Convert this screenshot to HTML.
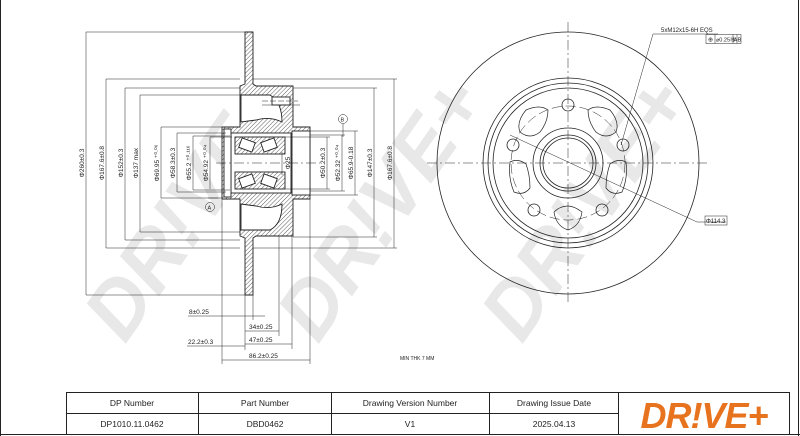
<!DOCTYPE html>
<html><head><meta charset="utf-8"><style>
html,body{margin:0;padding:0;background:#fff;width:800px;height:436px;overflow:hidden}
svg{display:block}
text{font-family:"Liberation Sans",sans-serif;fill:#222}
</style></head><body>
<svg width="800" height="436" viewBox="0 0 800 436" xmlns="http://www.w3.org/2000/svg">
<defs>
<pattern id="h" width="3" height="3" patternUnits="userSpaceOnUse" patternTransform="rotate(45)">
<rect width="3" height="3" fill="#fff"/><line x1="0" y1="0" x2="0" y2="3" stroke="#333" stroke-width="0.8"/></pattern>
</defs>
<!-- watermarks -->
<g font-family="Liberation Sans" font-weight="bold" font-style="italic" font-size="80">
<text x="0" y="0" transform="translate(125,345) rotate(-55)" style="fill:#e8e8e8">DR!VE+</text>
<text x="0" y="0" transform="translate(318,345) rotate(-55)" style="fill:#e8e8e8">DR!VE+</text>
<text x="0" y="0" transform="translate(522,345) rotate(-55)" style="fill:#e8e8e8">DR!VE+</text>
</g>
<!-- frame -->
<g stroke="#222" fill="none" stroke-width="1">
<line x1="0.5" y1="0" x2="0.5" y2="436"/>
<line x1="798.5" y1="0" x2="798.5" y2="436"/>
<line x1="0" y1="434.5" x2="800" y2="434.5"/>
</g>
<!-- LEFT SECTION VIEW -->
<g stroke="#222" stroke-width="0.9">
<path d="M245,32 H253 V84 L256,86 H293 V127 H310 V199 H293 V236 H256 L253,238 V295 H245 V238 L240,236 V199 H222 V127 H240 V86 L245,84 Z" fill="url(#h)"/>
<path d="M241,95 H270 Q282,102 282,122 Q270,116 256,120 L241,122 Z" fill="#fff"/>
<path d="M241,204 L256,206 Q270,210 282,204 Q282,224 270,230 H241 Z" fill="#fff"/>
<rect x="272" y="97" width="18" height="8" fill="#fff"/>
<rect x="231" y="133" width="60" height="60" fill="#fff"/>
<rect x="292" y="131" width="18" height="64" fill="#fff"/>
<rect x="224" y="129" width="7" height="68" fill="#fff"/>
<rect x="235" y="137" width="50" height="17" fill="url(#h)"/>
<rect x="235" y="172" width="50" height="17" fill="url(#h)"/>
<g fill="#fff"><rect x="240" y="140" width="14" height="10" transform="rotate(20 247 145)"/><rect x="262" y="140" width="14" height="10" transform="rotate(-20 269 145)"/>
<rect x="240" y="176" width="14" height="10" transform="rotate(-20 247 181)"/><rect x="262" y="176" width="14" height="10" transform="rotate(20 269 181)"/></g>
</g>
<g stroke="#222" stroke-width="0.5" fill="none">
<line x1="216" y1="163" x2="320" y2="163" stroke-dasharray="10,3,2,3"/>
<line x1="262" y1="105" x2="300" y2="105" /><line x1="262" y1="101" x2="298" y2="101" stroke-dasharray="6,2"/>
<line x1="86" y1="32" x2="86" y2="295"/><line x1="86" y1="32" x2="245" y2="32"/><line x1="86" y1="295" x2="245" y2="295"/>
<line x1="106" y1="79" x2="106" y2="248"/><line x1="106" y1="79" x2="240" y2="79"/><line x1="106" y1="248" x2="240" y2="248"/>
<line x1="125" y1="88" x2="125" y2="240"/><line x1="125" y1="88" x2="240" y2="88"/><line x1="125" y1="240" x2="240" y2="240"/>
<line x1="140" y1="95" x2="140" y2="232"/><line x1="140" y1="95" x2="240" y2="95"/><line x1="140" y1="232" x2="240" y2="232"/>
<line x1="161" y1="127" x2="161" y2="198"/><line x1="161" y1="127" x2="222" y2="127"/><line x1="161" y1="198" x2="222" y2="198"/>
<line x1="177" y1="133" x2="177" y2="192"/><line x1="177" y1="133" x2="226" y2="133"/><line x1="177" y1="192" x2="226" y2="192"/>
<line x1="193" y1="136" x2="193" y2="190"/><line x1="193" y1="136" x2="230" y2="136"/><line x1="193" y1="190" x2="230" y2="190"/>
<line x1="210" y1="137" x2="210" y2="189"/><line x1="210" y1="137" x2="232" y2="137"/>
<line x1="327" y1="137" x2="327" y2="189"/><line x1="285" y1="137" x2="330" y2="137"/><line x1="285" y1="189" x2="330" y2="189"/>
<line x1="342" y1="135" x2="342" y2="191"/><line x1="310" y1="135" x2="345" y2="135"/><line x1="310" y1="191" x2="345" y2="191"/>
<line x1="355" y1="131" x2="355" y2="195"/><line x1="310" y1="131" x2="358" y2="131"/><line x1="310" y1="195" x2="358" y2="195"/>
<line x1="374" y1="88" x2="374" y2="237"/><line x1="293" y1="88" x2="377" y2="88"/><line x1="293" y1="237" x2="377" y2="237"/>
<line x1="394" y1="79" x2="394" y2="248"/><line x1="253" y1="79" x2="397" y2="79"/><line x1="253" y1="248" x2="397" y2="248"/>
<line x1="282" y1="152" x2="282" y2="175"/>
<line x1="222" y1="199" x2="222" y2="364"/><line x1="245" y1="295" x2="245" y2="350"/><line x1="253" y1="295" x2="253" y2="320"/>
<line x1="279" y1="236" x2="279" y2="336"/><line x1="292" y1="236" x2="292" y2="349"/><line x1="310" y1="199" x2="310" y2="364"/>
<line x1="188" y1="316" x2="265" y2="316"/><line x1="245" y1="331" x2="279" y2="331"/><line x1="245" y1="344" x2="292" y2="344"/>
<line x1="187" y1="346" x2="245" y2="346"/><line x1="222" y1="360" x2="310" y2="360"/>
<line x1="218" y1="198" x2="208" y2="198"/>
<circle cx="210" cy="207" r="4.5"/><circle cx="343" cy="119" r="4.5"/>
<line x1="343" y1="124" x2="343" y2="137"/>
</g>
<g font-size="6.5">
<text transform="translate(84,163) rotate(-90)" text-anchor="middle">Φ260±0.3</text>
<text transform="translate(104,163) rotate(-90)" text-anchor="middle">Φ167.6±0.8</text>
<text transform="translate(123,163) rotate(-90)" text-anchor="middle">Φ152±0.3</text>
<text transform="translate(138,163) rotate(-90)" text-anchor="middle">Φ137 max</text>
<text transform="translate(159,163) rotate(-90)" text-anchor="middle">Φ69.95 ⁺⁰·⁰⁶</text>
<text transform="translate(175,163) rotate(-90)" text-anchor="middle">Φ58.3±0.3</text>
<text transform="translate(191,163) rotate(-90)" text-anchor="middle">Φ55.2 ⁺⁰·¹¹⁶</text>
<text transform="translate(208,163) rotate(-90)" text-anchor="middle">Φ54.92 ⁺⁰·⁰⁴</text>
<text transform="translate(290,163) rotate(-90)" text-anchor="middle">Φ25</text>
<text transform="translate(325,163) rotate(-90)" text-anchor="middle">Φ50.2±0.3</text>
<text transform="translate(340,163) rotate(-90)" text-anchor="middle">Φ52.32 ⁺⁰·⁰⁴</text>
<text transform="translate(353,163) rotate(-90)" text-anchor="middle">Φ65.9-0.18</text>
<text transform="translate(372,163) rotate(-90)" text-anchor="middle">Φ147±0.3</text>
<text transform="translate(392,163) rotate(-90)" text-anchor="middle">Φ167.6±0.8</text>
<text x="189" y="314">8±0.25</text>
<text x="249" y="329">34±0.25</text>
<text x="249" y="342">47±0.25</text>
<text x="188" y="344">22.2±0.3</text>
<text x="249" y="358">86.2±0.25</text>
<text x="207.5" y="209.5" font-size="5.5">A</text>
<text x="340.5" y="121.5" font-size="5.5">B</text>
<text x="400" y="360" font-size="5">MIN THK 7 MM</text>
</g>
<!-- RIGHT FRONT VIEW -->
<g stroke="#222" stroke-width="0.8" fill="none">
<circle cx="568" cy="163" r="131"/>
<circle cx="568" cy="163" r="85"/><circle cx="568" cy="163" r="80"/><circle cx="568" cy="163" r="75"/>
<circle cx="568" cy="163" r="35"/><circle cx="568" cy="163" r="28"/><circle cx="568" cy="163" r="25"/>
<circle cx="568" cy="163" r="57" stroke-dasharray="10,4" stroke-width="0.5"/>
<circle cx="568" cy="105" r="6"/><circle cx="623" cy="145" r="6"/><circle cx="602" cy="210" r="6"/><circle cx="534" cy="210" r="6"/><circle cx="513" cy="145" r="6"/>
<g stroke-width="0.7">
<path d="M548,110 Q540,104 526,110 Q516,122 520,132 Q530,140 540,132 Q548,122 548,110Z"/>
<path d="M588,110 Q596,104 610,110 Q620,122 616,132 Q606,140 596,132 Q588,122 588,110Z"/>
<path d="M510,162 Q508,178 514,192 Q524,196 530,188 Q530,175 526,164 Q518,158 510,162Z"/>
<path d="M626,162 Q628,178 622,192 Q612,196 606,188 Q606,175 610,164 Q618,158 626,162Z"/>
<path d="M554,212 Q556,226 568,230 Q580,226 582,212 Q574,206 568,206 Q560,206 554,212Z"/>
</g>
</g>
<g stroke="#222" stroke-width="0.5" fill="none">
<line x1="568" y1="22" x2="568" y2="305" stroke-dasharray="10,3,2,3"/>
<line x1="427" y1="163" x2="710" y2="163" stroke-dasharray="10,3,2,3"/>
<line x1="510" y1="135" x2="697" y2="222"/><line x1="697" y1="222" x2="726" y2="222"/>
<line x1="621" y1="145" x2="653" y2="34"/><line x1="653" y1="34" x2="718" y2="34"/>
<rect x="706" y="34.5" width="35" height="9"/><line x1="715" y1="34.5" x2="715" y2="43.5"/><line x1="733" y1="34.5" x2="733" y2="43.5"/><line x1="737" y1="34.5" x2="737" y2="43.5"/>
<rect x="705" y="216" width="22" height="9"/>
</g>
<g font-size="6">
<text x="661" y="32">5xM12x15-6H EQS</text>
<text x="708" y="41.5" font-size="6">⊕</text>
<text x="716" y="41.5" font-size="5.5">⌀0.25Ⓜ</text>
<text x="733.5" y="41.5" font-size="5.5">A</text><text x="737.5" y="41.5" font-size="5.5">B</text>
<text x="706" y="223" font-size="6">Φ114.3</text>
</g>
<!-- TABLE -->
<g stroke="#222" stroke-width="1" fill="none">
<rect x="66.5" y="392.5" width="723" height="42"/>
<line x1="66" y1="413.5" x2="618" y2="413.5"/>
<line x1="198.5" y1="392" x2="198.5" y2="435"/>
<line x1="331.5" y1="392" x2="331.5" y2="435"/>
<line x1="489.5" y1="392" x2="489.5" y2="435"/>
<line x1="618.5" y1="392" x2="618.5" y2="435"/>
</g>
<g font-size="8.5" text-anchor="middle">
<text x="132" y="406">DP Number</text><text x="265" y="406">Part Number</text>
<text x="410" y="406">Drawing Version Number</text><text x="554" y="406">Drawing Issue Date</text>
<text x="132" y="427">DP1010.11.0462</text><text x="265" y="427">DBD0462</text>
<text x="410" y="427">V1</text><text x="554" y="427">2025.04.13</text>
</g>
<text x="704" y="428" text-anchor="middle" font-size="36" font-weight="bold" font-style="italic" style="fill:#e8731e;letter-spacing:-1px">DR!VE+</text>
</svg>
</body></html>
